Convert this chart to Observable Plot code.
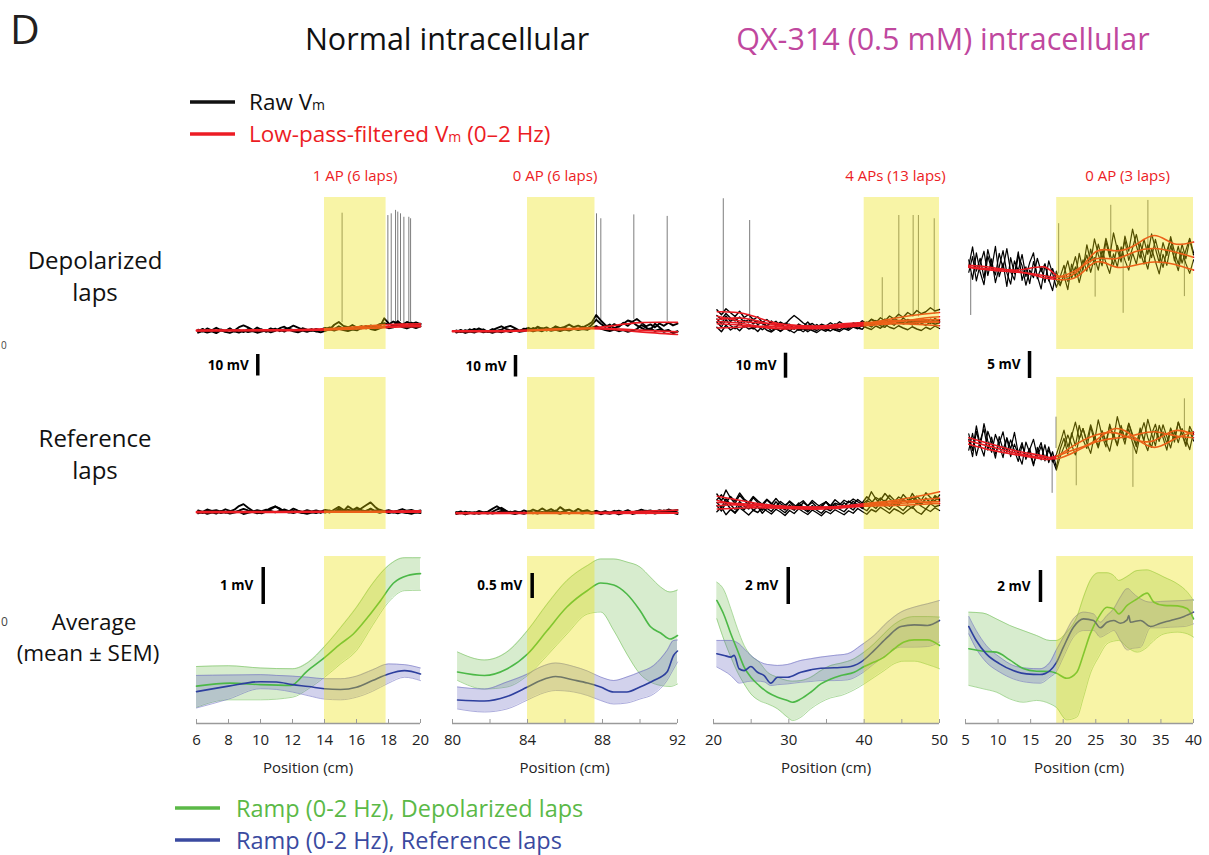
<!DOCTYPE html>
<html><head><meta charset="utf-8">
<script src="https://cdn.jsdelivr.net/npm/d3@7"></script>
<script src="https://cdn.jsdelivr.net/npm/@observablehq/plot@0.6"></script>
<style>
body{margin:0;background:#fff;}
#fig{position:relative;width:1209px;height:855px;overflow:hidden;background:#fff;font-family:"Open Sans",sans-serif;}
</style></head><body><div id="fig"></div>
<script>
// ================= DATA =================
const colTitles = ["1 AP (6 laps)", "0 AP (6 laps)", "4 APs (13 laps)", "0 AP (3 laps)"];
const xDomains = [[6, 20], [80, 92], [20, 50], [5, 40]];
const placeFields = [[14, 17.85], [84, 87.6], [40, 50], [19, 40]];
const traceSpan = [[6.1, 20], [80.2, 92], [20.45, 50], [5.5, 40]];
const rawScaleMv = [10, 10, 10, 5];
const avgScaleMv = [1, 0.5, 2, 2];
const xTicks = [[6, 8, 10, 12, 14, 16, 18, 20], [80, 84, 88, 92], [20, 30, 40, 50], [5, 10, 15, 20, 25, 30, 35, 40]];
const xMinorTicks = [[], [82, 86, 90], [25, 35, 45], []];

// ---- column 1 (6–20 cm) ----
const c1_dep_raw = [
 [8.5,9.6,8.2,9.1,8.0,9.3,8.7,9.9,8.4,9.0,8.1,9.5,8.8,10.2,9.1,8.6,9.8,8.9,9.4,8.3,9.7,9.0,8.5,9.9,9.2,8.7,9.6,8.9,9.5,10.3,9.4,10.8,9.7,10.1,11.4,10.2,10.9,9.8,11.2,10.5,11.8,12.3,11.6,13.0,12.2,11.5,12.8,11.9,12.6,11.8],
 [9.2,8.4,9.8,8.9,10.1,9.0,8.3,9.5,8.8,10.4,11.2,10.3,9.1,8.6,9.4,8.2,9.0,9.7,8.5,9.3,10.0,11.1,10.2,9.3,8.8,9.5,8.4,9.2,10.0,9.3,11.5,12.8,11.0,10.4,9.6,10.3,9.8,10.9,10.1,9.6,10.4,14.5,12.1,11.0,13.2,11.4,10.6,12.5,11.3,12.0],
 [7.8,8.6,7.9,8.4,7.6,8.9,8.2,7.7,8.5,7.9,8.8,8.1,8.6,7.8,8.3,8.9,8.0,8.7,9.9,10.6,9.2,8.4,8.0,8.8,8.2,8.9,8.4,8.0,8.7,9.4,8.8,9.6,9.0,8.6,9.3,8.9,10.0,10.9,9.5,9.0,9.8,10.7,9.9,10.3,11.5,10.4,9.8,10.6,10.0,10.8]
];
const c1_dep_lpX = [6, 9, 12, 14, 16, 18, 20];
const c1_dep_lp = [[8.8,8.9,9.0,9.3,10.0,10.8,11.2],[8.6,8.7,8.8,9.0,9.5,10.3,10.6],[9.0,9.1,9.2,9.6,10.6,11.6,11.9]];
const c1_dep_spikeX = [15.1, 17.96, 18.17, 18.44, 18.58, 18.75, 18.96, 19.27, 19.38];
const c1_dep_spikeFrom = [12.5, 12, 12, 12.5, 12, 13, 12, 12.5, 12];
const c1_dep_spikeTo = [63.4, 62.3, 63.1, 64.7, 63.9, 63.1, 61.5, 61.5, 60.8];
const c1_ref_raw = [
 [8.3,7.6,8.9,8.0,7.4,8.6,7.8,8.4,9.2,10.9,11.8,10.1,8.7,8.0,7.5,8.3,9.5,10.6,9.8,8.4,7.9,8.6,8.1,7.7,8.5,8.0,7.6,8.3,7.9,8.8,8.2,9.6,8.5,10.8,9.4,8.7,9.9,11.3,12.6,10.5,8.9,8.2,8.7,7.9,8.5,8.0,7.6,8.4,7.9,8.2],
 [7.5,8.2,7.3,7.9,8.4,7.6,8.1,7.4,7.9,8.3,7.2,7.7,8.2,7.5,8.0,8.8,9.9,10.8,9.4,8.6,8.1,7.6,8.3,7.8,7.3,7.9,8.4,7.7,8.6,7.9,9.3,10.5,9.2,8.3,8.9,10.2,9.0,8.4,9.7,8.5,7.8,8.3,7.6,8.1,7.5,8.2,7.8,7.3,8.0,7.6],
 [8.9,8.2,9.3,8.6,9.0,8.3,9.4,8.7,8.1,8.8,9.6,8.9,8.3,9.0,8.5,9.2,8.6,8.0,8.7,9.3,8.5,9.7,8.8,8.2,9.0,8.4,8.9,8.3,9.1,8.7,8.2,8.9,8.4,9.2,8.6,9.0,8.3,8.8,9.4,8.7,9.2,8.5,9.0,8.3,8.8,9.5,8.7,9.1,8.4,8.9]
];
const c1_ref_lpX = [6, 10, 14, 17, 20];
const c1_ref_lp = [[8.0,8.0,8.1,8.2,8.3],[8.4,8.3,8.5,8.5,8.7],[7.8,7.9,8.0,8.0,8.1]];
const c1_gMeanX = [6, 8.1, 10, 11.9, 12.9, 14, 15, 15.8, 16.7, 17.5, 18.3, 19.2, 20];
const c1_gMean = [1.01, 1.09, 1.05, 1.03, 1.41, 1.78, 2.15, 2.42, 2.87, 3.32, 3.79, 4.0, 4.05];
const c1_gBandX = [6, 8, 10, 12, 13, 14, 15, 16, 17, 18, 19, 20];
const c1_gHi = [1.54, 1.56, 1.5, 1.48, 1.66, 2.08, 2.59, 3.14, 3.78, 4.27, 4.48, 4.48];
const c1_gLo = [0.44, 0.64, 0.64, 0.71, 0.94, 1.25, 1.61, 1.97, 2.65, 3.28, 3.59, 3.6];
const c1_bX = [6, 8, 10, 11, 12, 13, 14, 15, 16, 17, 18, 19, 20];
const c1_bMean = [0.86, 1.01, 1.13, 1.12, 1.05, 1.0, 0.94, 0.92, 0.98, 1.16, 1.34, 1.43, 1.34];
const c1_bHi = [1.3, 1.31, 1.32, 1.3, 1.28, 1.25, 1.21, 1.21, 1.28, 1.45, 1.61, 1.59, 1.5];
const c1_bLo = [0.42, 0.66, 0.94, 0.92, 0.85, 0.75, 0.66, 0.64, 0.71, 0.87, 1.09, 1.25, 1.16];

// ---- column 2 (80–92 cm) ----
const c2_dep_raw = [
 [8.2,9.1,8.0,9.4,8.6,9.8,8.9,8.3,9.5,8.7,9.2,10.4,11.0,9.9,8.8,9.4,10.1,9.0,10.6,9.6,10.3,9.2,10.8,9.9,10.5,11.6,10.4,11.1,10.2,11.3,12.6,16.0,13.5,11.4,10.2,11.8,10.6,12.4,11.0,12.9,14.2,12.5,10.8,11.7,10.3,12.1,11.0,12.5,11.2,12.0],
 [8.9,8.1,9.0,8.4,9.6,8.8,9.4,8.2,9.0,9.9,10.8,9.6,8.9,9.3,8.5,9.7,8.9,10.0,9.3,9.9,8.8,9.6,10.4,9.5,10.2,9.1,10.0,9.4,10.6,9.8,11.4,13.8,12.0,10.5,11.6,9.8,10.9,12.0,13.5,12.8,11.2,10.1,9.0,9.8,8.6,9.4,8.2,8.9,7.8,8.5],
 [7.9,8.6,7.7,8.3,7.9,8.8,8.0,8.5,7.8,8.4,8.0,8.7,8.1,8.9,8.2,8.6,9.2,8.4,9.0,8.5,9.4,8.7,9.1,8.6,9.3,8.8,9.6,9.0,9.5,9.1,10.2,10.9,9.7,9.0,8.6,9.3,8.5,9.0,8.2,8.8,9.5,11.4,10.2,9.1,12.0,10.3,8.6,9.1,7.6,8.3]
];
const c2_dep_lpX = [80, 83, 85, 87, 88.5, 90, 92];
const c2_dep_lp = [[8.5,8.6,9.2,9.8,11.0,12.5,12.6],[8.3,8.4,9.0,9.6,9.3,8.2,7.0],[8.7,8.8,9.4,10.0,9.8,9.0,8.2]];
const c2_dep_spikeX = [87.68, 87.91, 89.67, 91.45];
const c2_dep_spikeFrom = [13, 13, 14, 13];
const c2_dep_spikeTo = [63.1, 60.8, 62.6, 61.9];
const c2_ref_raw = [
 [7.8,8.4,7.2,8.1,7.6,8.6,7.9,8.3,9.6,10.8,9.4,8.2,7.7,8.5,7.9,8.9,8.1,9.3,8.4,9.8,8.6,9.5,8.3,10.4,8.9,9.2,8.2,9.6,8.5,9.0,8.0,8.6,7.5,8.3,7.8,8.7,7.4,8.2,9.0,7.9,8.5,7.6,8.8,8.0,8.5,7.7,8.9,8.1,8.6,7.9],
 [7.2,7.8,7.0,7.6,8.1,7.3,7.9,7.4,8.2,9.3,10.1,8.8,7.6,7.2,7.8,7.3,8.0,7.5,8.4,7.7,8.3,7.6,8.8,7.9,8.5,7.4,8.1,7.6,8.4,7.8,7.3,7.9,7.1,7.7,7.3,7.9,7.0,7.6,8.3,7.2,7.8,8.4,7.5,8.1,7.4,8.0,7.6,8.3,7.7,7.2],
 [8.1,7.5,8.3,7.8,7.3,8.0,7.6,8.2,7.4,7.9,8.6,7.8,8.3,7.5,8.1,7.7,8.5,7.9,7.4,8.2,7.7,8.4,7.9,7.3,8.0,7.6,8.2,7.8,7.4,8.1,7.9,8.7,8.0,8.5,7.7,8.3,8.8,8.1,8.6,7.9,8.4,9.2,8.5,8.9,8.2,9.0,8.4,9.3,8.7,9.1]
];
const c2_ref_lpX = [80.2, 84, 88, 92];
const c2_ref_lp = [[7.6,7.7,7.7,7.8],[7.8,7.9,8.0,9.0],[7.4,7.5,7.5,7.6]];
const c2_gX = [80.27, 81.7, 82.9, 84, 85.05, 86.1, 87.2, 87.9, 88.6, 89.3, 90, 90.55, 91.1, 91.6, 92];
const c2_gMean = [1.03, 0.96, 1.09, 1.39, 1.86, 2.33, 2.66, 2.81, 2.77, 2.59, 2.26, 1.94, 1.81, 1.69, 1.76];
const c2_gHi = [1.43, 1.27, 1.43, 1.86, 2.39, 2.86, 3.16, 3.29, 3.29, 3.23, 3.13, 2.93, 2.73, 2.63, 2.67];
const c2_gLo = [0.86, 0.69, 0.73, 0.96, 1.36, 1.79, 2.19, 2.23, 1.86, 1.39, 0.99, 0.83, 0.76, 0.74, 0.79];
const c2_bX = [80.27, 81.7, 82.9, 84, 84.7, 85.5, 86.47, 87.2, 87.9, 88.6, 89.3, 90, 90.73, 91.44, 91.79, 92];
const c2_bMean = [0.47, 0.45, 0.54, 0.73, 0.86, 0.94, 0.87, 0.81, 0.73, 0.63, 0.63, 0.73, 0.86, 1.03, 1.36, 1.45];
const c2_bHi = [0.73, 0.69, 0.83, 0.99, 1.13, 1.21, 1.14, 1.05, 0.93, 0.86, 0.93, 1.03, 1.16, 1.46, 1.66, 1.67];
const c2_bLo = [0.29, 0.23, 0.29, 0.47, 0.59, 0.66, 0.63, 0.56, 0.46, 0.39, 0.41, 0.49, 0.59, 0.86, 1.09, 1.23];

// ---- column 3 (20–50 cm) ----
const c3_dep_raw = [
 [15.9,13.9,16.3,14.7,13.2,15.3,12.8,14.0,11.9,13.1,10.8,12.0,10.2,11.3,9.3,10.5,9.9,8.4,10.2,9.2,11.0,8.9,10.0,8.5,9.6,8.7,10.3,9.1,9.8,8.9,10.4,9.5,10.8,10.1,12.0,10.8,12.7,11.4,13.4,12.2,14.1,12.9,14.8,13.6,15.6,14.3,15.1,16.7,15.4,16.0],
 [12.2,10.4,13.4,11.2,12.7,10.2,11.7,10.7,12.1,9.9,11.1,9.3,11.4,9.5,10.7,8.8,10.1,8.1,9.5,8.6,7.8,9.3,8.3,9.7,8.5,9.2,7.9,9.4,8.4,9.9,8.9,10.3,9.5,11.0,9.7,11.6,10.3,12.2,10.9,11.7,10.5,12.6,11.3,10.6,12.0,11.0,11.6,10.4,12.4,11.4],
 [8.9,7.1,9.7,7.8,9.1,7.5,9.5,8.2,8.8,7.2,9.3,7.7,7.0,8.3,7.4,8.9,7.7,6.7,8.2,7.1,8.5,7.6,6.8,8.1,7.3,8.6,7.8,7.2,8.4,7.7,9.0,8.3,9.6,8.7,8.0,9.4,8.5,10.0,8.9,8.3,9.5,8.6,7.9,9.1,8.2,7.6,8.9,8.1,9.4,8.4],
 [13.6,12.0,14.4,12.6,11.4,13.0,10.9,12.0,10.2,11.4,10.3,9.4,10.8,9.7,11.0,10.0,12.0,13.6,12.2,10.6,9.5,10.4,9.0,10.1,9.4,10.7,9.6,11.1,10.0,9.3,10.6,9.9,11.5,10.5,12.1,11.2,10.4,11.9,10.8,12.5,11.4,10.7,12.0,11.1,10.1,11.4,10.8,12.1,11.2,11.8],
 [11.0,9.0,12.0,9.6,8.3,10.7,8.9,10.1,8.2,9.5,7.9,9.1,7.5,8.7,7.2,8.5,7.4,8.9,7.7,8.3,7.1,8.4,7.6,8.8,8.0,7.4,8.6,7.8,9.2,8.3,9.6,8.6,8.1,10.0,9.0,10.5,9.5,8.9,10.8,9.7,11.3,10.2,10.8,9.8,11.5,10.4,9.7,11.0,10.1,10.7]
];
const c3_lpX = [20.5, 24, 28, 32, 36, 40, 44, 48, 50];
const c3_dep_lp = [
 [15.1,14.4,10.8,9.3,9.5,10.3,12.5,14.2,14.8],[12.0,12.5,9.9,8.8,9.1,9.9,11.2,11.9,12.0],
 [10.3,9.6,8.6,9.0,9.6,10.5,11.6,11.4,11.2],[8.6,9.0,9.3,8.4,8.6,9.5,10.3,10.8,11.0],
 [13.3,11.2,10.3,9.5,9.0,10.1,11.0,12.6,13.1],[11.2,10.3,8.4,8.6,9.9,10.8,10.5,9.9,9.5]
];
const c3_dep_spikeX = [21.3, 24.8, 42.4, 44.6, 46.5, 47.2, 49.3];
const c3_dep_spikeFrom = [14, 12, 12, 13, 13, 13, 14];
const c3_dep_spikeTo = [60.3, 51.6, 28.7, 53.6, 53.6, 53.6, 52.3];
const c3_ref_raw = [
 [14.2,11.4,15.8,12.6,10.4,13.7,11.7,9.8,12.7,10.8,9.4,11.8,10.1,12.4,10.3,9.1,11.4,9.9,8.4,10.8,9.4,11.6,10.1,8.8,11.1,9.5,11.9,10.4,9.0,11.4,10.0,12.0,10.6,13.1,11.3,10.2,12.6,11.0,13.7,11.8,10.7,14.0,12.0,11.0,13.3,11.7,14.7,12.8,11.4,13.8],
 [9.5,7.4,10.7,8.3,6.8,9.7,7.9,10.3,7.6,9.1,6.5,8.5,7.2,9.5,8.0,6.7,8.8,7.7,9.9,8.3,7.0,8.9,7.7,6.5,8.4,7.5,9.4,8.1,7.1,9.1,7.8,10.1,8.6,7.5,9.8,8.4,10.8,9.2,8.0,10.2,9.0,7.6,9.6,8.5,10.7,9.3,8.2,10.3,9.1,9.7],
 [11.9,13.9,10.8,13.2,11.3,14.6,12.2,10.8,13.2,11.5,10.1,12.1,10.5,9.3,11.2,9.8,11.0,9.1,10.2,11.5,9.5,10.8,8.9,10.1,11.1,9.3,10.5,9.9,11.7,10.7,12.2,11.1,10.0,11.6,10.6,12.8,11.7,14.4,12.3,10.9,13.0,11.9,10.7,12.6,11.4,10.2,12.2,11.0,12.9,11.6],
 [7.1,8.9,5.9,8.0,6.5,8.7,7.3,5.8,7.7,6.8,8.8,7.4,6.2,8.1,7.0,5.6,7.6,6.4,8.3,7.1,6.0,7.8,6.7,5.5,7.3,6.3,7.9,6.9,5.9,7.5,6.5,8.4,7.2,6.1,8.0,7.1,8.9,7.7,6.5,8.3,7.4,6.2,7.7,9.1,7.1,6.1,8.2,7.2,8.7,7.6],
 [10.8,8.7,12.3,9.9,8.1,11.2,9.3,8.2,10.5,8.9,7.7,10.1,8.6,11.1,9.1,7.8,9.9,8.3,10.6,9.0,7.6,9.6,8.3,9.4,11.0,8.8,10.0,8.5,10.7,9.2,11.3,9.8,8.4,10.9,15.1,12.2,10.2,11.7,9.3,11.1,9.6,12.1,10.6,14.4,11.8,9.9,12.6,10.7,13.6,12.0]
];
const c3_ref_lp = [
 [13.3,11.4,9.5,8.8,8.9,9.9,11.6,13.8,15.1],[10.8,10.3,9.6,9.0,8.9,9.5,10.3,11.0,11.2],
 [8.2,8.6,8.8,9.0,8.9,9.6,10.8,12.0,12.5],[11.6,9.5,8.6,8.4,9.1,10.3,11.4,10.8,10.3],
 [9.5,9.9,9.0,8.2,8.4,9.3,9.6,10.1,10.5]
];
const c3_gX = [20.44,21.42,22.3,23.19,24.07,24.96,26.06,27.17,28.5,29.82,30.49,31.6,32.9,34.25,35.58,36.9,38.67,40,41.33,42.65,43.98,45.3,46.64,48.4,50];
const c3_gMean = [6.65,5.84,4.85,3.95,3.05,2.5,2.05,1.69,1.42,1.24,1.15,1.33,1.69,2.14,2.41,2.59,2.77,3.08,3.32,3.59,4.04,4.4,4.52,4.52,4.22];
const c3_gHi = [7.64,7.19,6.2,5.12,4.22,3.68,3.32,2.77,2.5,2.32,2.29,2.32,2.5,2.86,3.14,3.26,3.5,3.86,4.31,4.85,5.35,5.66,5.78,5.78,5.75];
const c3_gLo = [5.66,4.49,3.59,2.77,2.14,1.6,1.24,1.06,0.79,0.34,0.16,0.34,0.79,1.15,1.39,1.51,1.82,2.14,2.5,2.86,3.23,3.37,3.37,3.19,2.96];
const c3_bX = [20.44,21.42,22.3,22.74,23.4,24.07,24.96,25.84,26.73,27.6,28.5,29.82,31.6,32.9,34.25,36.02,37.8,39.56,41.33,43.1,44.87,46.64,48.4,50];
const c3_bMean = [3.77,3.68,3.59,3.68,2.96,2.86,3.08,2.77,2.59,2.18,2.5,2.5,2.77,2.9,2.99,3.01,3.05,3.32,3.95,4.67,5.24,5.33,5.3,5.57];
const c3_bHi = [4.49,4.49,4.49,4.45,4.31,4.04,3.68,3.41,3.23,3.17,3.14,3.19,3.41,3.5,3.59,3.68,3.77,4.22,4.76,5.48,6.02,6.29,6.47,6.65];
const c3_bLo = [3.05,2.83,2.59,2.41,2.18,2.23,2.29,2.29,2.25,2.05,2.1,2.14,2.23,2.27,2.32,2.32,2.36,2.68,3.23,3.77,4.13,4.13,4.16,4.4];

// ---- column 4 (5–40 cm, QX-314) ----
const c4_dep_raw = [
 [16.6,13.0,17.9,14.3,12.0,17.3,14.9,19.1,13.5,16.0,11.7,17.0,14.0,18.1,12.8,15.3,12.2,16.3,13.6,11.2,15.7,13.0,10.9,14.5,12.1,13.7,11.1,15.8,13.4,17.8,14.8,19.4,16.2,20.5,17.6,15.5,20.0,17.1,21.6,18.5,16.2,21.0,18.2,22.3,19.2,16.9,20.4,17.6,21.4,18.7,16.1,19.8,17.4,20.9,18.1,15.8,19.5,16.8,20.3,17.5],
 [14.3,17.2,12.7,15.8,18.2,13.7,16.8,12.4,15.3,18.3,14.2,12.1,16.4,14.6,17.6,13.5,16.1,17.9,13.1,15.2,12.4,16.4,14.1,11.5,13.5,15.6,12.6,14.6,17.2,13.9,16.6,14.5,18.6,15.7,19.5,16.7,20.6,17.9,15.6,19.3,17.0,20.2,16.5,18.8,21.3,18.1,15.8,19.4,17.0,20.4,17.6,15.2,18.3,20.4,16.4,19.1,16.0,18.4,20.6,17.9],
 [15.4,19.0,14.5,16.9,13.2,18.5,15.6,13.8,17.8,15.0,18.7,14.4,12.9,17.4,15.5,11.9,14.7,13.3,16.9,14.4,15.9,12.7,15.0,12.9,11.8,14.0,16.4,13.2,15.3,12.4,15.3,17.5,14.3,17.0,14.7,18.4,16.1,14.1,17.7,15.3,19.0,16.5,14.7,17.9,15.8,19.7,17.2,14.9,18.7,16.3,14.0,17.6,15.6,19.2,16.9,14.6,18.1,15.9,14.1,16.6]
];
const c4_lpX = [5.5, 9, 13, 17, 19, 22, 25, 28, 31, 34, 37, 40];
const c4_dep_lp = [
 [15.6,15.2,14.7,15.3,13.7,14.3,18.1,18.3,19.3,21.1,19.6,19.9],
 [15.2,14.7,14.3,13.7,13.4,14.7,16.8,16.8,18.1,18.7,18.1,17.1],
 [15.3,14.9,14.5,13.3,13.0,13.4,16.2,15.3,15.6,16.2,15.8,14.7]
];
const c4_dep_spikeX = [5.8, 19.3, 24.9, 27.3, 29.2, 33.0, 38.6];
const c4_dep_spikeFrom = [14, 14, 16, 18, 18, 19, 18];
const c4_dep_spikeTo = [6.3, 23.3, 9.7, 26.7, 6.7, 27.6, 9.8];
const c4_ref_raw = [
 [17.7,14.6,19.2,15.6,13.6,18.2,16.1,13.2,17.2,14.8,16.9,13.5,15.8,13.9,12.1,16.2,14.2,11.8,15.2,12.9,15.7,12.4,14.4,11.5,14.9,16.9,14.0,17.9,15.5,19.3,16.6,15.0,19.0,16.3,20.3,17.4,15.3,19.5,16.8,20.9,18.1,15.8,19.6,17.3,15.3,18.8,16.5,20.4,17.7,15.5,19.3,17.0,14.7,18.6,16.2,19.9,17.6,15.4,19.1,17.6],
 [14.7,17.8,13.7,16.5,18.6,14.7,17.1,14.0,15.9,18.1,14.3,16.6,14.6,12.6,15.6,13.5,15.0,12.1,14.3,16.1,12.7,14.7,13.0,11.0,13.5,15.3,17.5,15.7,13.8,16.8,18.7,16.0,14.1,17.4,15.4,18.3,16.4,14.5,17.8,15.7,19.3,16.6,18.6,16.1,14.1,17.5,19.8,17.0,15.2,18.4,16.3,19.4,17.2,15.1,18.2,16.1,18.7,16.7,14.8,18.1],
 [16.7,13.5,18.2,15.3,19.6,16.4,14.3,17.6,15.7,13.3,17.0,14.9,18.0,14.1,16.1,13.0,14.8,16.7,13.5,15.4,13.0,15.3,12.5,13.9,16.0,18.4,15.3,17.3,19.9,16.8,18.7,16.4,19.4,17.1,15.1,18.1,16.2,19.2,17.5,15.5,18.7,16.9,19.7,17.6,15.7,18.5,16.4,14.6,17.7,19.5,16.6,18.1,15.9,18.8,16.9,19.9,17.8,15.8,18.3,16.4]
];
const c4_ref_lp = [
 [16.4,15.3,14.1,13.3,13.6,14.9,16.5,18.7,17.0,15.2,16.7,18.0],
 [17.0,15.8,14.5,13.6,13.1,14.5,16.2,16.9,17.5,18.1,17.4,17.0],
 [15.8,14.7,13.8,13.0,13.5,15.8,17.5,17.9,16.6,16.5,18.3,17.6]
];
const c4_ref_spikeX = [18.3, 18.9, 22.0, 30.7, 38.6];
const c4_ref_spikeFrom = [14, 15, 15, 16, 18];
const c4_ref_spikeTo = [6.7, 20.8, 8.1, 7.8, 24.2];
const c4_gX = [5.51,7.68,9.73,11.79,13.85,15.91,17.97,18.9,20.54,22.09,23.12,24.15,25.43,26.72,27.75,28.52,29.81,31.35,32.89,33.92,35.47,37.53,39.07,40];
const c4_gMean = [4.67,4.52,4.46,3.98,3.44,3.27,3.25,3.15,2.83,3.21,4.35,5.6,6.65,7.27,7.17,6.85,7.38,7.79,8.15,7.58,7.38,7.35,7.17,6.54];
const c4_gHi = [6.96,6.9,6.54,6.13,5.81,5.5,5.19,5.19,5.71,6.65,7.9,8.94,9.42,9.42,9.25,8.94,9.19,9.56,9.6,9.46,9.15,8.73,8.21,7.69];
const c4_gLo = [2.38,2.17,1.96,1.54,1.33,1.44,1.23,1.02,0.23,0.4,1.65,3.1,4.15,4.98,5.15,5.19,4.77,4.46,4.77,5.19,5.6,5.71,5.6,5.4];
const c4_bX = [5.51,6.65,8.19,10.25,12.31,14.37,16.43,17.97,18.9,20.03,21.57,23.12,24.66,25.69,26.72,27.75,28.78,29.81,30.06,30.32,31.87,33.41,34.95,36.5,38.56,40];
const c4_bMean = [6.06,5.19,4.35,3.73,3.31,3.1,3.06,3.31,3.77,4.77,6.02,6.54,6.44,5.98,6.33,6.44,6.27,6.48,6.75,6.33,6.44,6.06,6.27,6.44,6.69,6.96];
const c4_bHi = [6.69,5.81,4.88,4.15,3.63,3.46,3.42,3.83,4.56,5.4,6.54,6.96,6.85,6.33,6.75,7.17,7.9,8.42,8.42,8.31,7.79,7.58,7.63,7.65,7.69,7.73];
const c4_bLo = [5.6,4.67,3.83,3.21,2.79,2.58,2.52,2.9,3.21,4.15,5.4,5.81,5.81,5.4,5.6,5.81,5.19,4.6,4.6,4.67,4.77,5.98,5.98,6.02,6.06,6.23];

// ================= LAYOUT (pixels, not data) =================
const colLeft = [196, 452, 713, 965];
const colWidth = [224, 225, 226, 228];
const rowTop = [197, 377, 556];
const panelH = [152, 152, 167];
const rawPxPerMv = [2.15, 2.15, 2.5, 5.4];
const avgPxPerMv = [37, 50, 18.5, 16];
const rawStroke = [1.9, 1.9, 1.4, 1.2];
const rawBarX = [9.83, 83.36, 29.56, 14.83];
const rawBarTopPx = [5, 6, 3.7, 2];
const avgBarX = [10.17, 84.25, 29.92, 16.51];
const avgBarBottomPx = [119, 125, 119, 121];
const FONT = "'Open Sans', sans-serif";
const YELLOW = "#ebe000", YELLOW_OP = 0.35;
const RED = "#ec1c24", GREEN = "#4cb847", BLUE = "#2d3f9e";

const fig = document.getElementById("fig");
function place(svg, left, top) {
  svg.style.position = "absolute";
  svg.style.left = left + "px";
  svg.style.top = top + "px";
  fig.appendChild(svg);
}
const baseStyle = {background: "transparent", overflow: "visible", fontFamily: FONT, color: "#111"};

function rawPanel(c, r, raw, lpX, lp, spX, spFrom, spTo, withBar) {
  const k = rawPxPerMv[c], H = panelH[r], W = colWidth[c], span = traceSpan[c];
  const rawData = raw.flatMap((ys, j) => ys.map((y, i) => ({x: span[0] + i * (span[1] - span[0]) / (ys.length - 1), y, j})));
  const lpData = lp.flatMap((ys, j) => ys.map((y, i) => ({x: lpX[i], y, j})));
  const spikes = spX.map((x, i) => ({x, a: spFrom[i], b: spTo[i]}));
  const marks = [
    Plot.ruleX(spikes, {x: "x", y1: "a", y2: "b", stroke: "#6e6e6e", strokeWidth: 0.9}),
    Plot.line(rawData, {x: "x", y: "y", z: "j", stroke: "#000", strokeWidth: rawStroke[c]}),
    Plot.line(lpData, {x: "x", y: "y", z: "j", stroke: RED, strokeWidth: 1.6, curve: "natural"}),
    Plot.rect([placeFields[c]], {x1: d => d[0], x2: d => d[1], y1: () => 0, y2: () => H / k, fill: YELLOW, fillOpacity: YELLOW_OP})
  ];
  if (withBar) {
    const top = -rawBarTopPx[c] / k;
    const bar = {x: rawBarX[c], y1: top, y2: top - rawScaleMv[c], label: rawScaleMv[c] + " mV"};
    marks.push(Plot.ruleX([bar], {x: "x", y1: "y1", y2: "y2", stroke: "#000", strokeWidth: 3.5}));
    marks.push(Plot.text([bar], {x: "x", y: d => (d.y1 + d.y2) / 2, text: "label", textAnchor: "end", dx: -9, fontSize: 13.5, fontWeight: "bold", fill: "#000"}));
  }
  const svg = Plot.plot({
    width: W, height: H, marginTop: 0, marginRight: 0, marginBottom: 0, marginLeft: 0,
    x: {domain: xDomains[c], axis: null}, y: {domain: [0, H / k], axis: null},
    style: baseStyle, marks
  });
  place(svg, colLeft[c], rowTop[r]);
}

function avgPanel(c, gMX, gM, gBX, gHi, gLo, bX, bM, bHi, bLo) {
  const k = avgPxPerMv[c], H = panelH[2], W = colWidth[c];
  const gMean = gMX.map((x, i) => ({x, y: gM[i]}));
  const gBand = gBX.map((x, i) => ({x, lo: gLo[i], hi: gHi[i]}));
  const bMean = bX.map((x, i) => ({x, y: bM[i]}));
  const bBand = bX.map((x, i) => ({x, lo: bLo[i], hi: bHi[i]}));
  const cv = "monotone-x";
  const b0 = avgBarBottomPx[c] / k;
  const bar = {x: avgBarX[c], y1: b0, y2: b0 + avgScaleMv[c], label: avgScaleMv[c] + " mV"};
  const marks = [
    Plot.areaY(gBand, {x: "x", y1: "lo", y2: "hi", fill: "#7cc05e", fillOpacity: 0.3, curve: cv}),
    Plot.line(gBand, {x: "x", y: "hi", stroke: "#6cbd52", strokeOpacity: 0.7, strokeWidth: 0.8, curve: cv}),
    Plot.line(gBand, {x: "x", y: "lo", stroke: "#6cbd52", strokeOpacity: 0.7, strokeWidth: 0.8, curve: cv}),
    Plot.areaY(bBand, {x: "x", y1: "lo", y2: "hi", fill: "#6a6ac0", fillOpacity: 0.3, curve: cv}),
    Plot.line(bBand, {x: "x", y: "hi", stroke: "#6a6ac0", strokeOpacity: 0.7, strokeWidth: 0.8, curve: cv}),
    Plot.line(bBand, {x: "x", y: "lo", stroke: "#6a6ac0", strokeOpacity: 0.7, strokeWidth: 0.8, curve: cv}),
    Plot.line(gMean, {x: "x", y: "y", stroke: GREEN, strokeWidth: 1.6, curve: cv}),
    Plot.line(bMean, {x: "x", y: "y", stroke: BLUE, strokeWidth: 1.6, curve: cv}),
    Plot.rect([placeFields[c]], {x1: d => d[0], x2: d => d[1], y1: () => 0, y2: () => H / k, fill: YELLOW, fillOpacity: YELLOW_OP}),
    Plot.ruleY([0], {stroke: "#9a9a9a", strokeWidth: 1.5}),
    Plot.ruleX(xTicks[c].concat(xMinorTicks[c]), {x: d => d, y1: () => 0, y2: () => 4 / k, stroke: "#9a9a9a", strokeWidth: 1}),
    Plot.text(xTicks[c], {x: d => d, y: () => 0, dy: 17, text: d => String(d), fontSize: 15, fill: "#222"}),
    Plot.ruleX([bar], {x: "x", y1: "y1", y2: "y2", stroke: "#000", strokeWidth: 3.5}),
    Plot.text([bar], {x: "x", y: d => (d.y1 + d.y2) / 2, text: "label", textAnchor: "end", dx: -10, fontSize: 13.5, fontWeight: "bold", fill: "#000"})
  ];
  const svg = Plot.plot({
    width: W, height: H + 60, marginTop: 0, marginRight: 0, marginBottom: 60, marginLeft: 0,
    x: {domain: xDomains[c], axis: null}, y: {domain: [0, H / k], axis: null},
    style: baseStyle, marks
  });
  place(svg, colLeft[c], rowTop[2]);
}

// ---- text overlay ----
const ov = d3.select(fig).append("svg")
  .attr("width", 1209).attr("height", 855)
  .style("position", "absolute").style("left", "0px").style("top", "0px")
  .style("font-family", FONT);
function txt(x, y, s, size, color, anchor = "start", weight = "normal") {
  return ov.append("text").attr("x", x).attr("y", y).attr("font-size", size)
    .attr("fill", color).attr("text-anchor", anchor).attr("font-weight", weight).text(s);
}
txt(10, 43.5, "D", 41, "#231f20");
txt(447, 50, "Normal intracellular", 30.5, "#111", "middle");
txt(943, 50, "QX-314 (0.5 mM) intracellular", 30.5, "#c0479e", "middle");
ov.append("line").attr("x1", 190).attr("x2", 235).attr("y1", 102).attr("y2", 102).attr("stroke", "#111").attr("stroke-width", 3.5);
const t1 = txt(249, 110, "Raw V", 22.5, "#111");
t1.append("tspan").attr("font-size", 14).text("m");
ov.append("line").attr("x1", 190).attr("x2", 235).attr("y1", 134).attr("y2", 134).attr("stroke", RED).attr("stroke-width", 3.5);
const t2 = txt(249, 142, "Low-pass-filtered V", 22.5, RED);
t2.append("tspan").attr("font-size", 14).text("m");
t2.append("tspan").text(" (0–2 Hz)");
const headX = [355, 555, 895.5, 1127.5];
colTitles.forEach((s, i) => txt(headX[i], 181, s, 15, RED, "middle"));
txt(95, 269, "Depolarized", 24, "#111", "middle");
txt(95, 301, "laps", 24, "#111", "middle");
txt(95, 447, "Reference", 24, "#111", "middle");
txt(95, 479, "laps", 24, "#111", "middle");
txt(94, 630, "Average", 22.5, "#111", "middle");
txt(88, 661, "(mean ± SEM)", 22.5, "#111", "middle");
txt(1, 349, "0", 10, "#444");
txt(1, 626, "0", 12, "#444");
for (let c = 0; c < 4; c++) txt(colLeft[c] + colWidth[c] / 2, 773, "Position (cm)", 15, "#222", "middle");
ov.append("line").attr("x1", 175).attr("x2", 220).attr("y1", 808).attr("y2", 808).attr("stroke", "#5bb947").attr("stroke-width", 3.5);
txt(236, 817, "Ramp (0-2 Hz), Depolarized laps", 23.5, "#5bb947");
ov.append("line").attr("x1", 175).attr("x2", 220).attr("y1", 840).attr("y2", 840).attr("stroke", "#3a4aa0").attr("stroke-width", 3.5);
txt(236, 849, "Ramp (0-2 Hz), Reference laps", 23.5, "#3a4aa0");

// ---- panels ----
rawPanel(0, 0, c1_dep_raw, c1_dep_lpX, c1_dep_lp, c1_dep_spikeX, c1_dep_spikeFrom, c1_dep_spikeTo, true);
rawPanel(1, 0, c2_dep_raw, c2_dep_lpX, c2_dep_lp, c2_dep_spikeX, c2_dep_spikeFrom, c2_dep_spikeTo, true);
rawPanel(2, 0, c3_dep_raw, c3_lpX, c3_dep_lp, c3_dep_spikeX, c3_dep_spikeFrom, c3_dep_spikeTo, true);
rawPanel(3, 0, c4_dep_raw, c4_lpX, c4_dep_lp, c4_dep_spikeX, c4_dep_spikeFrom, c4_dep_spikeTo, true);
rawPanel(0, 1, c1_ref_raw, c1_ref_lpX, c1_ref_lp, [], [], [], false);
rawPanel(1, 1, c2_ref_raw, c2_ref_lpX, c2_ref_lp, [], [], [], false);
rawPanel(2, 1, c3_ref_raw, c3_lpX, c3_ref_lp, [], [], [], false);
rawPanel(3, 1, c4_ref_raw, c4_lpX, c4_ref_lp, c4_ref_spikeX, c4_ref_spikeFrom, c4_ref_spikeTo, false);
avgPanel(0, c1_gMeanX, c1_gMean, c1_gBandX, c1_gHi, c1_gLo, c1_bX, c1_bMean, c1_bHi, c1_bLo);
avgPanel(1, c2_gX, c2_gMean, c2_gX, c2_gHi, c2_gLo, c2_bX, c2_bMean, c2_bHi, c2_bLo);
avgPanel(2, c3_gX, c3_gMean, c3_gX, c3_gHi, c3_gLo, c3_bX, c3_bMean, c3_bHi, c3_bLo);
avgPanel(3, c4_gX, c4_gMean, c4_gX, c4_gHi, c4_gLo, c4_bX, c4_bMean, c4_bHi, c4_bLo);
</script></body></html>
